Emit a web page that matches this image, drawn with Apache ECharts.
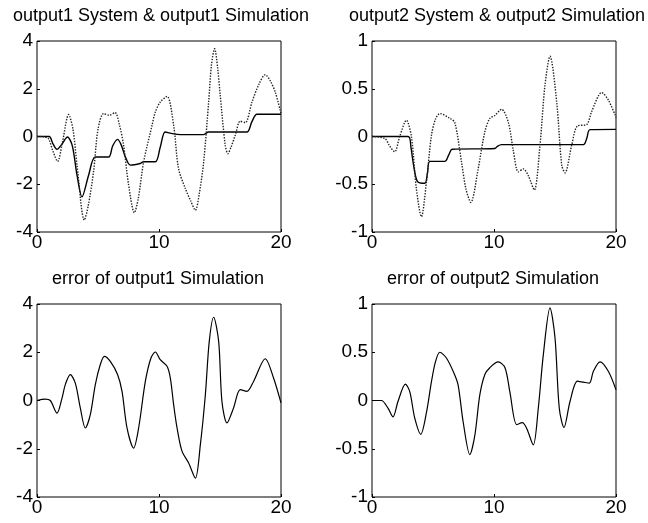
<!DOCTYPE html>
<html><head><meta charset="utf-8">
<script src="https://cdn.jsdelivr.net/npm/echarts@6/dist/echarts.min.js"></script>
<style>html,body{margin:0;padding:0;background:#fff}#c{width:648px;height:523px}</style>
</head><body><div id="c"></div>
<script>
const titles = ["output1 System & output1 Simulation", "output2 System & output2 Simulation",
                "error of output1 Simulation", "error of output2 Simulation"];
const xTicks = [0, 10, 20];
const yTicks1 = [-4, -2, 0, 2, 4];
const yTicks2 = [-1, -0.5, 0, 0.5, 1];

const sys1 = [[0,0],[1.0,0],[1.3,-0.3],[1.64,-0.54],[2.0,-0.35],[2.5,-0.02],[2.9,-0.4],[3.28,-1.62],[3.69,-2.53],[4.23,-1.62],[4.78,-0.86],[5.87,-0.86],[6.2,-0.4],[6.6,-0.12],[6.9,-0.35],[7.24,-0.85],[7.65,-1.2],[8.46,-1.13],[8.73,-1.06],[9.7,-1.06],[10.1,-0.45],[10.5,0.19],[11.0,0.13],[11.75,0.08],[13.66,0.08],[14.07,0.19],[17.2,0.19],[17.6,0.6],[18.03,0.93],[20,0.93]];
const sim1 = [[0,0],[0.6,-0.02],[0.95,-0.1],[1.3,-0.6],[1.69,-1.04],[2.1,-0.2],[2.59,0.92],[2.95,0.3],[3.28,-1.2],[3.88,-3.5],[4.2,-2.9],[4.64,-1.45],[5.0,0.3],[5.46,0.96],[5.92,0.89],[6.4,1.0],[6.75,0.5],[7.1,-0.37],[7.5,-2.0],[7.98,-3.19],[8.3,-2.6],[8.74,-1.07],[9.43,0.47],[9.7,1.03],[10.1,1.44],[10.66,1.68],[11.2,0.47],[11.6,-1.34],[12.16,-2.18],[12.6,-2.7],[12.98,-3.09],[13.3,-2.4],[13.66,-1.07],[14.07,1.44],[14.3,3.0],[14.56,3.68],[14.8,2.9],[15.02,1.72],[15.43,-0.37],[15.65,-0.72],[15.9,-0.45],[16.25,0.05],[16.66,0.64],[17.07,0.58],[17.62,1.44],[18.2,2.2],[18.71,2.59],[19.1,2.35],[19.53,1.86],[20,0.96]];
const err1 = [[0,0],[0.68,0.06],[1.09,0],[1.64,-0.52],[2.05,0.1],[2.32,0.66],[2.73,1.07],[3.14,0.72],[3.55,-0.31],[3.96,-1.14],[4.37,-0.59],[4.78,0.66],[5.19,1.49],[5.52,1.83],[6.01,1.62],[6.61,1.07],[6.97,0.38],[7.38,-1.14],[7.92,-1.97],[8.33,-1.14],[8.88,0.79],[9.34,1.76],[9.7,2.01],[10.1,1.69],[10.66,1.42],[10.93,0.93],[11.2,-0.17],[11.48,-1.14],[11.89,-2.11],[12.43,-2.59],[12.98,-3.22],[13.39,-1.83],[13.8,0.24],[14.12,2.45],[14.48,3.45],[14.89,2.45],[15.16,-0.04],[15.57,-0.93],[16.11,-0.31],[16.66,0.45],[17.21,0.38],[17.75,0.79],[18.71,1.73],[19.39,0.93],[20,-0.1]];
const sys2 = [[0,0],[2.96,0],[3.2,-0.12],[3.37,-0.27],[3.72,-0.47],[4.33,-0.49],[4.55,-0.38],[4.74,-0.26],[5.97,-0.26],[6.3,-0.19],[6.57,-0.134],[10.07,-0.125],[10.3,-0.1],[10.62,-0.085],[17.33,-0.085],[17.6,-0.02],[17.87,0.072],[20,0.075]];
const sim2 = [[0,0],[1.04,-0.02],[1.45,-0.1],[1.86,-0.16],[2.27,0.0],[2.82,0.17],[3.23,0.0],[3.64,-0.55],[4.05,-0.84],[4.46,-0.48],[4.87,0.01],[5.2,0.18],[5.56,0.24],[6.38,0.19],[6.79,0.145],[7.34,-0.27],[7.7,-0.55],[8.1,-0.69],[8.7,-0.34],[9.25,0.05],[9.66,0.19],[10.07,0.22],[10.62,0.285],[11.17,0.15],[11.58,-0.145],[11.99,-0.37],[12.4,-0.34],[12.81,-0.41],[13.3,-0.56],[13.77,-0.09],[14.18,0.54],[14.59,0.84],[15.14,0.36],[15.55,-0.3],[15.82,-0.38],[16.37,-0.09],[16.83,0.11],[17.6,0.125],[18.0,0.26],[18.83,0.46],[19.38,0.38],[20,0.2]];
const err2 = [[0,0],[0.77,0],[1.31,-0.08],[1.72,-0.17],[2.13,-0.01],[2.74,0.17],[3.1,0.09],[3.5,-0.18],[4.0,-0.35],[4.47,-0.12],[4.88,0.2],[5.2,0.4],[5.56,0.5],[6.1,0.44],[6.73,0.28],[7.06,0.16],[7.47,-0.22],[8.02,-0.56],[8.43,-0.36],[8.84,0.06],[9.25,0.27],[9.66,0.34],[10.34,0.4],[10.9,0.34],[11.3,0.09],[11.86,-0.25],[12.32,-0.23],[12.68,-0.29],[13.22,-0.46],[13.63,-0.08],[14.04,0.47],[14.59,0.96],[15.0,0.65],[15.35,-0.08],[15.74,-0.28],[16.23,-0.01],[16.83,0.2],[17.32,0.19],[17.82,0.18],[18.14,0.3],[18.69,0.4],[19.38,0.3],[20,0.11]];

const FONT = '"Liberation Sans", Arial, sans-serif';
const grids = [
  {left: 37, top: 41, width: 244, height: 191},
  {left: 372, top: 41, width: 244, height: 191},
  {left: 37, top: 304, width: 244, height: 193},
  {left: 372, top: 304, width: 244, height: 193}
];
const titlePos = [[161, 7], [497, 7], [158, 270], [493, 270]];
const yTickSets = [yTicks1, yTicks2, yTicks1, yTicks2];

const option = {
  backgroundColor: '#fff',
  animation: false,
  title: titles.map((t, i) => ({
    text: t, left: titlePos[i][0], top: titlePos[i][1], textAlign: 'center', padding: 0,
    textStyle: {fontFamily: FONT, fontSize: 18, fontWeight: 'normal', color: '#000'}
  })),
  grid: grids.map(g => Object.assign({show: true, borderColor: '#000', borderWidth: 1, backgroundColor: 'transparent'}, g)),
  xAxis: grids.map((g, i) => ({
    type: 'value', gridIndex: i, min: xTicks[0], max: xTicks[xTicks.length - 1],
    interval: xTicks[1] - xTicks[0], position: 'bottom',
    axisLine: {show: false, onZero: false}, splitLine: {show: false},
    axisTick: {show: true, inside: true, length: 3, lineStyle: {color: '#000'}},
    axisLabel: {fontFamily: FONT, fontSize: 19, color: '#000', margin: 1}
  })),
  yAxis: grids.map((g, i) => {
    const t = yTickSets[i];
    return {
      type: 'value', gridIndex: i, min: t[0], max: t[t.length - 1], interval: t[1] - t[0],
      position: 'left',
      axisLine: {show: false, onZero: false}, splitLine: {show: false},
      axisTick: {show: true, inside: true, length: 3, lineStyle: {color: '#000'}},
      axisLabel: {fontFamily: FONT, fontSize: 19, color: '#000', margin: 4}
    };
  }),
  series: [
    {data: sys1, xAxisIndex: 0, yAxisIndex: 0, lw: 1.4, c: '#000', type: 'solid'},
    {data: sim1, xAxisIndex: 0, yAxisIndex: 0, lw: 1.4, c: '#222', type: 'dotted'},
    {data: sys2, xAxisIndex: 1, yAxisIndex: 1, lw: 1.4, c: '#000', type: 'solid'},
    {data: sim2, xAxisIndex: 1, yAxisIndex: 1, lw: 1.4, c: '#222', type: 'dotted'},
    {data: err1, xAxisIndex: 2, yAxisIndex: 2, lw: 1.2, c: '#000', type: 'solid'},
    {data: err2, xAxisIndex: 3, yAxisIndex: 3, lw: 1.2, c: '#000', type: 'solid'}
  ].map(s => ({
    type: 'line', data: s.data, xAxisIndex: s.xAxisIndex, yAxisIndex: s.yAxisIndex,
    showSymbol: false, smooth: 0.3, clip: true,
    lineStyle: {color: s.c, width: s.lw, type: s.type}
  }))
};
const chart = echarts.init(document.getElementById('c'), null, {renderer: 'canvas'});
chart.setOption(option);
</script></body></html>
